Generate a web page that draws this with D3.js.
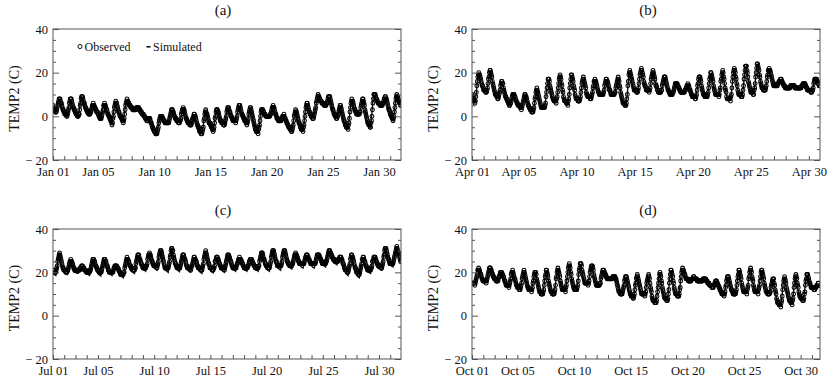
<!DOCTYPE html>
<html><head><meta charset="utf-8">
<script src="https://cdn.jsdelivr.net/npm/d3@7"></script>
<style>
body{margin:0;background:#fff}
text{font-family:"Liberation Serif","Times New Roman",serif;fill:#111}
</style>
</head><body>
<svg id="chart" width="835" height="384"></svg>
<script>
// ---------- DATA (hourly observed, 3-hourly simulated), °C ----------
const obsJan = [
[5,4,4,3,3,2,2,2,3,4,5,6,7,8,8,8,7,6,6,5,4,3,3,2],
[2,1,1,1,1,0,0,1,2,3,4,6,7,8,8,8,7,6,5,4,4,3,3,2],
[2,1,1,1,0,0,0,1,1,3,5,6,8,9,9,9,8,7,6,6,5,4,4,3],
[3,2,2,2,1,1,1,1,2,2,3,4,5,5,6,5,5,4,4,3,3,2,2,2],
[1,1,0,0,-1,-1,-1,-1,0,1,2,3,5,5,6,5,5,4,3,3,2,1,1,0],
[0,-1,-1,-2,-2,-3,-4,-3,-1,0,2,4,5,6,7,6,6,5,4,3,2,2,1,0],
[0,0,-1,-1,-2,-2,-3,-2,-1,1,3,5,6,7,8,7,7,6,6,5,5,5,4,4],
[4,4,3,3,3,3,3,3,3,3,4,4,4,4,4,4,3,3,3,2,2,2,1,1],
[1,1,0,0,0,-1,-1,-1,-2,-2,-2,-1,-1,-1,-1,-1,-2,-3,-3,-4,-5,-5,-6,-6],
[-7,-7,-7,-8,-8,-8,-8,-7,-6,-5,-3,-2,-1,0,0,0,0,0,-1,-1,-2,-2,-2,-3],
[-3,-3,-3,-3,-3,-3,-3,-3,-2,-1,0,1,2,3,3,3,2,2,1,0,0,-1,-1,-1],
[-2,-2,-2,-2,-3,-3,-3,-2,-2,-1,1,2,3,3,4,3,3,2,1,0,-1,-1,-2,-2],
[-3,-3,-3,-3,-4,-4,-4,-4,-3,-2,-1,-1,0,1,1,0,0,-1,-2,-3,-4,-4,-5,-5],
[-6,-7,-7,-7,-8,-8,-8,-7,-6,-5,-2,-1,1,2,3,2,1,1,0,-1,-2,-3,-3,-3],
[-4,-4,-5,-5,-6,-6,-7,-6,-5,-3,-1,0,2,3,3,3,2,2,1,0,-1,-2,-2,-2],
[-3,-3,-3,-3,-4,-4,-4,-3,-2,-1,0,2,3,4,4,4,3,2,2,1,0,0,-1,-1],
[-2,-2,-2,-2,-2,-2,-3,-2,-1,0,2,3,4,5,5,5,4,3,2,1,1,0,0,-1],
[-1,-2,-2,-2,-3,-3,-4,-3,-2,-1,1,2,3,4,4,3,2,1,0,-1,-2,-3,-4,-5],
[-6,-6,-7,-7,-7,-7,-8,-6,-5,-4,-2,0,2,3,3,3,3,2,2,1,1,1,0,0],
[0,0,0,0,0,0,0,0,1,1,2,3,4,4,5,4,4,3,2,1,1,0,-1,-1],
[-1,-2,-2,-2,-2,-2,-2,-2,-1,-1,0,0,0,1,0,-1,-1,-2,-2,-3,-3,-4,-4,-5],
[-5,-5,-6,-6,-6,-7,-7,-6,-5,-4,-2,0,1,2,3,2,2,1,0,-1,-2,-3,-3,-4],
[-5,-5,-6,-6,-6,-6,-7,-5,-4,-2,0,2,4,5,6,6,5,4,3,2,2,1,1,0],
[0,0,-1,-1,-1,0,1,2,3,4,6,7,8,9,10,9,9,8,8,7,7,7,6,6],
[6,6,6,5,5,5,5,5,6,6,7,8,9,9,9,9,8,7,6,5,4,3,3,2],
[1,1,0,0,0,-1,-1,0,0,1,2,3,4,5,5,4,3,2,1,0,-1,-2,-2,-3],
[-4,-4,-5,-5,-5,-5,-6,-4,-3,-1,2,4,6,7,8,7,7,6,5,4,3,3,2,2],
[1,1,1,1,1,1,1,2,2,4,5,6,7,8,8,7,6,5,3,2,1,0,-1,-2],
[-3,-3,-4,-4,-4,-5,-5,-3,-2,0,3,6,8,10,10,10,10,9,8,8,7,7,6,6],
[6,6,5,5,5,5,5,5,6,6,7,8,8,9,9,8,8,7,6,5,4,3,3,2],
[1,1,0,0,-1,-1,-2,-1,0,2,4,6,8,9,10,9,9,8,7,7,6,6,5,5]
];
const simJan = [
[4.5,3,1.5,5,8.2,7.5,4.5,2.5],[1.5,0.5,0,3.5,7.8,7,4,2],[1,0,-0.5,4,9,8.5,5,3],
[2,1,0.5,3,5.5,5,3,1.5],[0.5,-0.5,-1.5,2,5.5,5.2,2.5,0.5],[-0.5,-2,-3.5,1,6.5,6.5,3,0.5],
[-0.5,-1.5,-2.5,2,7.2,7.5,5,4],[3.5,3,3,3.5,4.2,4,3,2],[1.5,0,-1,-2,-1,-1.5,-3.5,-5.5],
[-7.5,-8,-8.2,-4,0.5,0,-1.5,-2.5],[-2.5,-3,-3.2,-0.5,2.5,2.5,0.5,-1],[-2,-2.5,-3,-0.5,3,3,0.5,-1.5],
[-3,-3.5,-4,-2,0.5,0.3,-2.5,-4.5],[-6.5,-7.5,-8,-4,2,2,-0.5,-3],[-4.5,-5.5,-6.5,-2.5,2.5,3,0,-2],
[-3,-3.5,-4,-0.5,3.5,3.8,1,-1],[-2,-2.2,-2.5,0.5,4.5,4.5,1.5,-0.5],[-1.5,-2.2,-3.5,-0.5,3.5,3.5,-0.5,-3.5],
[-6,-7,-7.5,-3.5,2.5,3,1,0],[0,-0.2,-0.5,1,4,4.3,1.5,-0.5],[-1.5,-2,-2.5,-1,0.5,0,-2,-4],
[-5,-6,-7,-3.5,2,2.5,-1,-3.5],[-5,-6,-6.5,-1.5,5,5.5,2.5,0.5],[0,-0.5,1,4,8.5,9,7.5,6.5],
[6,5.5,5,6.5,8.5,8.5,5.5,3],[0.5,-0.5,-1,1.5,4.5,4,0.5,-2.5],[-4.5,-5,-5.5,0,6.5,7,4,2],
[1.5,1,1,3.5,7.5,7.5,3.5,-1],[-3.5,-4.5,-5,2,9,9.5,7.5,6],[5.5,5,5,6,8.5,8.5,5.5,2.5],
[0.5,-1,-2,2,9,9.5,7.5,5.5]
];
const obsApr = [
[10,9,9,8,7,7,6,7,9,11,14,16,18,19,20,19,19,18,17,16,15,14,14,13],
[12,12,12,12,11,11,11,12,13,15,17,18,20,21,21,20,19,18,16,15,14,13,12,11],
[10,10,10,9,9,8,8,9,10,11,12,14,15,16,16,15,15,13,12,11,10,9,9,8],
[8,7,7,6,6,5,5,6,6,7,8,9,10,10,10,10,9,9,8,7,7,6,6,5],
[5,5,5,4,4,4,3,4,5,6,7,8,9,10,10,9,9,8,7,6,5,5,4,4],
[3,3,3,2,2,2,2,3,4,6,8,9,11,12,13,12,11,10,9,8,7,6,5,4],
[4,4,4,4,4,4,4,5,6,9,11,13,15,17,17,17,16,14,13,12,11,10,9,8],
[8,7,7,7,7,7,6,8,9,11,13,15,17,18,19,18,17,15,14,12,11,9,8,7],
[7,7,7,6,6,6,5,7,8,10,13,15,17,19,19,18,17,16,14,13,12,10,9,8],
[8,8,8,7,7,7,7,8,9,11,13,15,16,17,18,17,16,15,14,13,11,10,10,9],
[9,9,9,9,8,8,8,9,10,11,13,14,16,16,17,16,16,15,14,13,12,11,11,10],
[10,10,10,10,10,10,10,10,11,12,14,15,16,17,17,16,16,15,14,13,12,12,11,10],
[10,10,10,10,10,10,10,11,11,13,14,15,16,17,18,17,16,14,13,11,10,9,8,7],
[6,6,6,6,5,5,5,6,8,10,14,16,19,20,21,20,19,18,17,16,15,14,13,12],
[12,12,12,12,11,11,11,12,13,15,17,19,20,21,22,21,20,19,18,16,15,14,14,13],
[12,12,12,12,12,12,11,12,13,15,17,18,19,20,21,20,19,18,17,15,14,14,13,12],
[12,11,11,11,11,11,11,12,12,14,15,16,17,18,18,18,17,16,15,14,13,12,12,11],
[11,10,10,10,10,10,10,11,11,12,13,14,15,15,15,15,15,14,14,13,13,12,12,11],
[11,11,11,11,11,11,11,11,12,12,13,13,14,14,15,14,14,13,12,12,11,10,10,9],
[9,9,9,9,9,8,8,9,10,12,14,15,17,18,18,18,17,16,14,13,12,11,10,10],
[10,9,9,9,9,9,9,10,11,13,15,17,18,20,20,19,18,17,16,14,13,12,11,10],
[10,10,10,10,10,10,9,10,12,13,16,17,19,20,21,20,18,17,15,13,12,11,9,8],
[8,8,8,8,8,8,7,9,10,13,16,18,20,21,22,21,20,18,17,15,14,12,11,10],
[10,10,10,10,9,9,9,10,12,14,17,19,21,23,23,23,21,20,18,16,15,14,13,12],
[11,11,11,11,11,10,10,12,13,15,18,20,22,24,24,23,22,21,19,18,16,15,14,13],
[13,13,12,12,12,12,12,13,14,16,18,19,21,21,22,21,21,20,19,18,17,16,15,14],
[15,14,14,14,14,14,14,14,15,15,16,16,16,17,17,17,16,16,15,15,14,14,14,13],
[13,13,13,13,13,13,13,13,13,13,14,14,14,14,14,14,14,14,14,13,13,13,13,13],
[13,13,13,13,13,13,13,13,13,14,14,14,15,15,15,15,15,14,14,13,13,12,12,12],
[12,12,12,12,11,11,11,12,12,13,15,16,17,17,17,17,17,16,16,15,15,14,14,14]
];
const simApr = [
[10,8,6,11,18.5,19,15.5,13.5],[12,12,11,15,20,20.5,16,12.5],[10,9,8,11,15,15.5,12,9],
[7.5,6,5,7,9.8,10,7.5,5.5],[5,4,3.5,6,9,9.5,6.5,4],[3,2.2,2,5.5,11.5,12,8.5,5],
[4,3.8,3.8,9,16,16.5,12,9],[7.5,7,6.5,11,17.5,18,13,8.5],[7,6,5.5,10.5,18,18.5,13,9],
[8,7.2,7,10.5,16.5,17,13,10],[9,8.5,8.2,11,15.5,16.5,13,11],[10,10,9.8,12,16,16.5,13.5,11],
[10,10,9.8,12.5,16.5,17,13,8.5],[6.5,5.5,5,10.5,19.5,20.5,16,13],[12,11.5,11,15,20.5,21,17,14],
[12.5,12,11.5,14.5,19.5,20,16,13],[11.5,11,11,13.5,17.5,17.8,14,12],[10.5,10,10,12,15,15.2,13,12],
[11.3,11,11,12.2,14,14.5,12.5,10.5],[9,8.8,8.5,12,17.5,18,14,11],[9.5,9.2,9,13,19,19.5,15,11.5],
[10,9.8,9.5,13,19.5,20,14.5,10.5],[8,8,7.5,12.5,20.5,21.5,16,12],[10,9.5,9,14,22,23,17.5,13.5],
[11.5,11,10.5,15,23,24,18.5,14.5],[13,12.5,12,15.5,21,21.5,18,15.5],[14.5,14.3,14.3,15,16.5,16.5,15,14],
[13.2,13,12.8,13.3,14,14.2,13.8,13.2],[12.8,12.6,12.6,13.5,15,15,14,12.5],[12,11.5,11.3,13.5,17,17.2,15.5,14]
];
const obsJul = [
[21,21,20,20,20,20,20,21,22,23,25,26,27,28,29,28,27,26,25,24,23,22,22,21],
[21,21,21,20,20,20,20,21,21,22,23,24,25,25,26,25,25,24,24,23,22,22,21,21],
[21,21,21,21,21,21,21,21,21,21,22,22,22,23,23,23,22,22,22,21,21,21,21,20],
[20,20,20,20,20,20,20,21,21,22,23,24,25,26,26,26,25,25,24,23,23,22,22,21],
[21,21,20,20,20,20,20,20,21,22,23,24,25,26,26,26,25,25,24,23,23,22,21,21],
[20,20,20,20,20,20,20,20,20,21,22,22,23,23,23,23,23,22,22,22,21,21,20,20],
[19,19,19,19,19,19,19,20,20,22,23,24,25,26,27,26,26,25,25,24,23,23,23,22],
[22,22,21,21,21,21,21,22,22,24,25,26,27,28,28,28,27,26,26,25,24,24,23,23],
[22,22,22,22,22,22,22,23,23,24,26,27,28,28,29,28,28,27,26,25,25,24,24,23],
[23,23,23,23,23,23,22,23,24,25,27,28,29,30,30,30,29,28,27,26,25,24,23,22],
[22,22,22,22,22,22,22,23,24,25,27,28,30,31,31,30,30,28,27,26,25,24,24,23],
[23,22,22,22,22,22,22,22,23,24,25,26,27,28,28,28,27,26,26,25,24,23,23,22],
[22,22,22,22,22,22,21,22,23,23,24,25,26,27,27,26,26,25,25,24,23,23,22,22],
[22,22,22,21,21,21,21,22,23,24,26,27,28,29,30,29,28,27,26,25,24,24,23,22],
[22,22,22,22,21,21,21,22,22,23,25,25,26,27,27,27,26,26,25,24,24,23,23,22],
[22,22,22,22,22,22,21,22,23,24,25,26,27,28,28,28,27,27,26,25,25,24,23,23],
[22,22,22,22,22,22,22,22,23,24,24,25,26,26,27,26,26,26,25,25,24,24,23,23],
[22,22,22,22,22,22,22,22,23,23,24,25,25,26,26,26,26,25,25,24,24,23,23,23],
[22,22,22,22,22,22,22,23,23,25,26,27,28,29,29,29,28,27,26,26,25,24,24,23],
[23,23,22,22,22,22,22,23,24,25,27,28,29,30,30,30,29,28,27,26,25,25,24,23],
[23,23,23,23,23,23,23,23,24,25,27,28,29,30,30,30,29,28,27,26,25,25,24,24],
[24,23,23,23,23,23,23,24,24,25,26,27,28,28,29,28,28,27,27,26,25,25,24,24],
[24,24,24,24,24,24,24,24,24,25,26,27,27,28,28,28,27,27,26,26,25,25,24,24],
[24,24,24,24,24,24,24,24,24,25,26,27,28,28,28,28,28,27,27,26,26,25,25,24],
[24,24,24,24,24,24,24,25,25,26,27,28,29,30,30,30,29,29,28,28,27,27,26,26],
[26,26,25,25,25,25,25,25,25,26,26,26,27,27,27,27,26,26,25,24,24,23,22,22],
[21,21,21,21,20,20,20,21,22,23,24,26,27,28,28,27,27,26,25,24,23,22,22,21],
[20,20,20,20,19,19,19,20,21,22,23,24,26,26,27,27,26,25,25,24,23,23,22,22],
[21,21,21,21,21,21,21,22,22,23,25,25,26,27,27,27,27,26,25,25,24,24,23,23],
[23,23,23,23,22,22,22,23,24,25,27,28,30,31,31,31,30,29,28,27,26,26,25,24],
[24,24,24,24,24,24,24,25,26,27,28,29,30,31,32,31,30,29,29,28,27,26,25,25]
];
const simJul = [
[20,19,18.5,23,28.5,28,23.5,21],[20,19.5,19,22,25.5,25.5,22,20],[20,19.5,19.5,21,22.5,22.5,21,20],
[19.5,19,18.5,22.5,26,26,22.5,20.5],[19.5,18.8,18.3,22.5,26,26,22,20],[19.5,19,18.5,21,23,23,21,19.5],
[18.5,18,17.5,22,26.3,26.3,23,21],[20.5,20,19.5,24,27.8,27.5,24,22],[21.5,21,20.5,24.5,28.5,28.3,24.5,22.5],
[22,21.5,21,26,30,30,25.5,22],[21,20.5,20,26,30.5,30.5,25.5,22],[21.5,20.8,20.3,24.5,27.8,27.5,24,21.5],
[21,20.3,20,23.5,26.5,26.5,23.5,21.5],[20.8,20,19.5,25,29.5,29.5,25,22],[21,20.3,19.8,24,27,27,24,21.5],
[21,20.5,20,24.5,28,28,24.5,22],[21.5,21,20.5,24,26.3,26.3,24,22],[21.5,21,20.5,23.8,26,26,23.5,22],
[21.5,21,20.5,25,29,29,25,22.5],[21.8,21,20.5,25.5,30,30,25.5,22.5],[22,21.5,21,26,30,29.8,25.5,23],
[22.5,22,21.5,25.5,28.5,28.5,25.5,23.5],[23,22.3,22,25,27.5,27.5,25,23.5],[23,22.3,22,25.5,28,28,25.5,23.5],
[23.5,23,22.5,26.5,29.8,29.5,26.5,25],[24.5,24,23.5,25.5,26.5,26.5,24.5,22],[20.5,19.3,18.5,23.5,27.5,27.5,23,20],
[19,18,17.5,22.5,26.5,26.5,22.5,20.5],[20.3,19.8,19.5,23.5,27,27,23.5,22],[21.8,21.3,21,26.5,30.8,30.8,26.5,24],
[23.5,22.8,22.5,27.5,31.3,31,27,24.5]
];
const obsOct = [
[15,15,15,15,15,15,14,15,16,17,18,19,21,21,22,21,21,20,19,19,18,17,17,16],
[16,16,16,16,16,16,15,16,17,18,19,20,21,22,22,22,21,21,20,19,19,18,18,17],
[17,17,17,16,16,16,16,16,17,18,18,19,20,20,20,20,19,19,18,18,17,16,16,15],
[14,14,14,14,14,14,13,14,15,16,17,19,20,20,21,20,19,18,17,17,16,15,14,14],
[13,13,13,13,12,12,12,13,14,15,17,18,19,20,21,20,19,18,17,16,15,14,13,13],
[12,12,12,12,12,12,11,12,13,15,16,18,19,20,20,20,19,17,16,15,14,13,12,11],
[11,11,10,10,10,10,10,11,12,14,16,18,19,21,21,20,19,18,16,15,14,13,12,11],
[11,11,10,10,10,10,10,11,12,14,17,18,20,21,22,21,20,19,18,16,15,14,13,12],
[12,12,12,12,12,12,11,13,14,16,18,20,22,23,24,23,22,20,19,17,16,15,14,13],
[13,12,12,12,12,12,12,13,14,16,19,21,22,24,24,24,23,21,20,19,18,17,16,15],
[15,15,15,15,15,15,14,15,16,18,20,21,22,23,23,23,22,21,19,18,17,16,15,14],
[14,14,14,14,14,14,14,15,15,17,18,19,20,21,21,21,20,20,19,19,18,18,17,17],
[17,17,17,17,17,17,17,17,17,17,18,18,18,18,18,18,17,17,16,15,14,13,12,11],
[11,11,10,10,10,10,10,11,12,13,14,16,17,18,18,18,17,16,15,14,13,12,11,10],
[10,9,9,9,9,8,8,9,10,12,14,15,17,18,19,18,17,16,15,14,13,12,11,10],
[10,10,10,10,10,10,9,10,11,13,15,16,17,18,19,18,17,15,13,12,11,9,8,7],
[7,7,7,6,6,6,6,7,9,11,13,15,17,19,20,19,18,16,15,13,12,11,10,9],
[8,8,8,8,7,7,7,8,10,12,15,17,19,21,21,20,19,18,16,15,13,12,11,10],
[10,10,10,9,9,9,9,10,12,13,16,18,20,21,22,21,21,20,19,19,18,17,17,17],
[17,17,16,16,16,16,16,16,16,17,17,17,17,18,18,17,17,17,17,17,17,16,16,16],
[16,16,16,16,16,16,16,16,16,17,17,17,17,17,17,17,16,16,16,15,15,15,15,14],
[14,14,14,14,13,13,13,13,14,14,15,15,16,16,16,15,15,14,14,13,13,12,12,11],
[11,10,10,10,10,10,9,10,11,13,14,16,17,18,18,18,17,16,15,14,13,12,12,11],
[11,10,10,10,10,10,10,11,12,14,16,18,19,21,21,20,19,18,17,15,14,13,12,11],
[11,11,11,11,11,11,10,12,13,14,17,18,20,21,22,21,20,18,17,16,14,13,12,11],
[11,11,11,11,11,11,10,12,13,14,16,18,20,21,21,20,19,18,17,15,14,13,12,11],
[11,11,10,10,10,10,10,11,11,13,14,15,16,17,17,17,15,14,12,11,10,8,7,6],
[6,6,5,5,5,5,4,6,7,9,12,14,16,17,18,17,16,15,13,12,11,10,9,8],
[7,7,7,6,6,6,5,7,8,10,13,15,17,18,19,18,17,15,14,13,11,10,9,9],
[8,8,8,8,7,7,7,8,10,11,14,16,17,19,19,19,18,17,16,15,15,14,13,13],
[13,13,13,13,12,12,12,13,13,13,14,14,14,15,15,14,14,14]
];
const simOct = [
[15,14.6,14.5,17.5,21,21,18.5,17],[16,15.6,15.5,18,21.5,21.5,19.5,18],[17,16.3,16,17.5,20,20,18,16],
[14.5,13.8,13.5,16.5,20,20.2,17,14.5],[13,12.3,12,15.5,20,20,16.5,13.5],[12.3,11.8,11.5,15,19.5,20,16,12.5],
[11,10.3,10,14.5,20.5,20.5,16,12.5],[11,10.3,10,15,21,21.5,16.5,13.5],[12.3,11.7,11.5,16.5,22.5,23,18,14.5],
[13,12.3,12,17,23,23.5,19,16],[15,14.6,14.5,18,22.5,23,18.5,15.5],[14.5,14.2,14,17,20.5,20.5,18.5,17.5],
[17,16.8,16.5,17.3,18,18,16.5,13.5],[11.5,10.5,10,13.5,17.5,17.5,13.5,10.5],[9,8.3,8,12.5,18,18,13.5,11],
[10,9.6,9.5,13.5,18,18,12.5,8.5],[7,6.3,6,11.5,19,19,13.5,9.5],[8,7.3,7,13,20.5,20.5,14.5,11],
[9.8,9.3,9,14.5,21,21,18.5,17],[16.5,16.2,16,16.8,17.3,17.3,17,16.5],[16.5,16.3,16.3,16.8,17,17,16.3,15.5],
[15,14.5,14,15,16,16,14.5,12.5],[11.5,10.5,10,13.5,17.5,17.5,14,12],[10.8,10.3,10,14.5,20.5,20.5,15.5,12.5],
[11,10.6,10.5,15,21,21,16.5,13],[11,10.6,10.5,15,20.5,20.5,16,12.5],[11,10.5,10,13,16.8,16.5,12,7.5],
[5.5,5,4.5,10,17.5,17.5,12,8],[6.5,6,5.5,11,18,18,12.5,9.5],[8,7.5,7.3,12.5,18.5,18.5,15,13.5],
[13,12.7,12.5,13.3,14.3,14.3]
];
const yTicks = [-20, 0, 20, 40];
const yTickLabels = ["\u2212 20", "0", "20", "40"];
const labelDays = [1, 5, 10, 15, 20, 25, 30];
const janLabels = ["Jan 01","Jan 05","Jan 10","Jan 15","Jan 20","Jan 25","Jan 30"];
const aprLabels = ["Apr 01","Apr 05","Apr 10","Apr 15","Apr 20","Apr 25","Apr 30"];
const julLabels = ["Jul 01","Jul 05","Jul 10","Jul 15","Jul 20","Jul 25","Jul 30"];
const octLabels = ["Oct 01","Oct 05","Oct 10","Oct 15","Oct 20","Oct 25","Oct 30"];
const panelTitles = ["(a)","(b)","(c)","(d)"];
const yTitle = "TEMP2 (C)";
const legendLabels = ["Observed","Simulated"];

// ---------- LAYOUT ----------
const panels = [
  {title:panelTitles[0], month:0, obs:obsJan, sim:simJan, labels:janLabels, end:[31,23], box:{l:53,t:29,r:401,b:160}, tx:223, legend:true},
  {title:panelTitles[1], month:3, obs:obsApr, sim:simApr, labels:aprLabels, end:[30,23], box:{l:472,t:29,r:820,b:160}, tx:648},
  {title:panelTitles[2], month:6, obs:obsJul, sim:simJul, labels:julLabels, end:[31,23], box:{l:53,t:229,r:401,b:359}, tx:223},
  {title:panelTitles[3], month:9, obs:obsOct, sim:simOct, labels:octLabels, end:[31,17], box:{l:472,t:229,r:820,b:359}, tx:648}
];
const svg = d3.select("#chart");
const axisColor = "#555";

panels.forEach((p, pi) => {
  const B = p.box;
  const t0 = Date.UTC(2001, p.month, 1, 0);
  const t1 = Date.UTC(2001, p.month, p.end[0], p.end[1]);
  const x = d3.scaleUtc().domain([t0, t1]).range([B.l, B.r]);
  const y = d3.scaleLinear().domain([-20, 40]).range([B.b, B.t]);

  const obs = p.obs.flatMap((day, i) => day.map((v, h) => ({t: Date.UTC(2001, p.month, i + 1, h), v})))
                   .filter(d => d.t <= t1);
  const sim = p.sim.flatMap((day, i) => day.map((v, k) => ({t: Date.UTC(2001, p.month, i + 1, 3 * k), v})))
                   .filter(d => d.t <= t1);

  const g = svg.append("g");
  const clipId = "clip" + pi;
  svg.append("clipPath").attr("id", clipId).append("rect")
    .attr("x", B.l).attr("y", B.t).attr("width", B.r - B.l).attr("height", B.b - B.t);

  const data = g.append("g").attr("clip-path", `url(#${clipId})`);
  data.append("path").datum(sim)
    .attr("d", d3.line().x(d => x(d.t)).y(d => y(d.v)))
    .attr("fill", "none").attr("stroke", "#111").attr("stroke-width", 1.4);
  data.selectAll("circle").data(obs).join("circle")
    .attr("cx", d => x(d.t)).attr("cy", d => y(d.v)).attr("r", 1.9)
    .attr("fill", "none").attr("stroke", "#000").attr("stroke-width", 1.05);

  // axes
  const minor = d3.range(-20, 41, 5).filter(v => !yTicks.includes(v));
  const styleAxis = sel => {
    sel.select(".domain").remove();
    sel.selectAll("line").attr("stroke", axisColor);
    sel.selectAll("text").style("font-size", "12.5px").attr("fill", "#111")
      .style("font-family", '"Liberation Serif","Times New Roman",serif');
  };
  g.append("g").attr("transform", `translate(${B.l},0)`)
    .call(d3.axisLeft(y).tickValues(yTicks).tickSizeInner(-6).tickSizeOuter(0).tickPadding(5)
      .tickFormat((d, i) => yTickLabels[i])).call(styleAxis);
  g.append("g").attr("transform", `translate(${B.l},0)`)
    .call(d3.axisLeft(y).tickValues(minor).tickSizeInner(-3).tickSizeOuter(0).tickFormat("")).call(styleAxis);
  g.append("g").attr("transform", `translate(${B.r},0)`)
    .call(d3.axisRight(y).tickValues(yTicks).tickSizeInner(-6).tickSizeOuter(0).tickFormat("")).call(styleAxis);
  g.append("g").attr("transform", `translate(${B.r},0)`)
    .call(d3.axisRight(y).tickValues(minor).tickSizeInner(-3).tickSizeOuter(0).tickFormat("")).call(styleAxis);
  g.append("g").attr("transform", `translate(0,${B.b})`)
    .call(d3.axisBottom(x).ticks(d3.utcDay.every(1)).tickSizeInner(-4).tickSizeOuter(0).tickPadding(7)
      .tickFormat(d => { const k = labelDays.indexOf(d.getUTCDate()); return k >= 0 ? p.labels[k] : ""; }))
    .call(styleAxis);

  g.append("rect").attr("x", B.l).attr("y", B.t).attr("width", B.r - B.l).attr("height", B.b - B.t)
    .attr("fill", "none").attr("stroke", axisColor).attr("stroke-width", 1);

  // titles
  g.append("text").attr("x", p.tx).attr("y", B.t - 14).attr("text-anchor", "middle")
    .style("font-size", "15px").text(p.title);
  const cy = (B.t + B.b) / 2 + 4;
  g.append("text").attr("transform", `translate(${B.l - 34},${cy}) rotate(-90)`)
    .attr("text-anchor", "middle").style("font-size", "14px").text(yTitle);

  if (p.legend) {
    g.append("circle").attr("cx", 80).attr("cy", 46.5).attr("r", 2.1)
      .attr("fill", "none").attr("stroke", "#111").attr("stroke-width", 1);
    g.append("text").attr("x", 84.5).attr("y", 50.5).style("font-size", "12px").text(legendLabels[0]);
    g.append("line").attr("x1", 146.5).attr("x2", 150.5).attr("y1", 46.8).attr("y2", 46.8)
      .attr("stroke", "#111").attr("stroke-width", 1.6);
    g.append("text").attr("x", 153).attr("y", 50.5).style("font-size", "12px").text(legendLabels[1]);
  }
});
</script>
</body></html>
